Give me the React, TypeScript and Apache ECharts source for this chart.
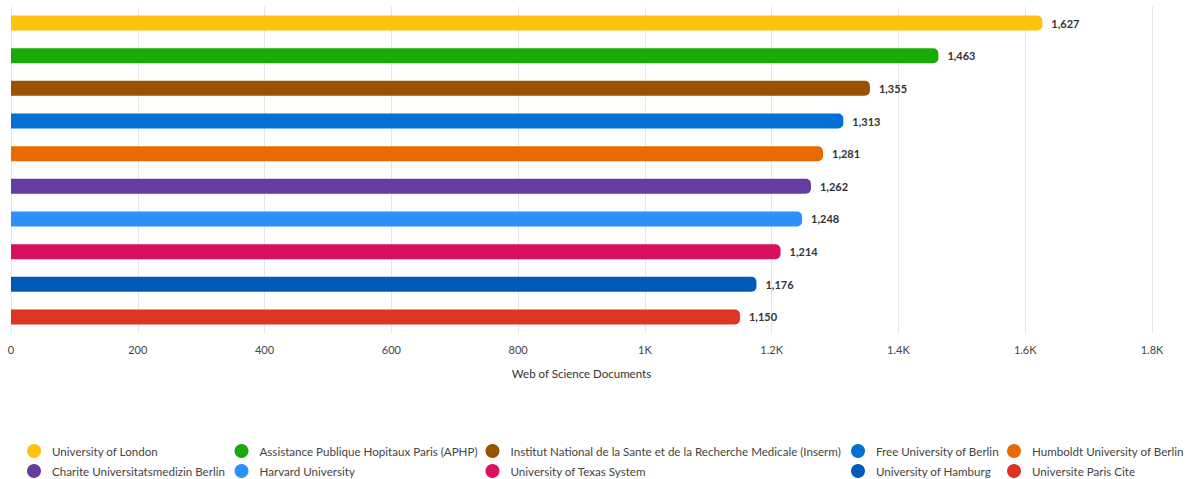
import React, { useEffect, useRef } from "react";
import * as echarts from "echarts";

const institutions = [
  "University of London",
  "Assistance Publique Hopitaux Paris (APHP)",
  "Institut National de la Sante et de la Recherche Medicale (Inserm)",
  "Free University of Berlin",
  "Humboldt University of Berlin",
  "Charite Universitatsmedizin Berlin",
  "Harvard University",
  "University of Texas System",
  "University of Hamburg",
  "Universite Paris Cite",
];
const documents = [1627, 1463, 1355, 1313, 1281, 1262, 1248, 1214, 1176, 1150];
const colors = [
  "#FFC20E",
  "#1AAA08",
  "#995200",
  "#0070D4",
  "#E96B00",
  "#653C9F",
  "#2E8FFF",
  "#D9105E",
  "#005BB8",
  "#DD3523",
];
const xTicks = [0, 200, 400, 600, 800, 1000, 1200, 1400, 1600, 1800];
const axisName = "Web of Science Documents";

const legendCols = [27, 234.5, 485.5, 851, 1007];
const legendRows = [444, 464];

const FONT = "Lato, 'Open Sans', sans-serif";

export default function App() {
  const ref = useRef<HTMLDivElement>(null);
  useEffect(() => {
    if (!ref.current) return;
    const chart = echarts.init(ref.current, undefined, { renderer: "svg" });
    const series = institutions.map((name, i) => ({
      name,
      type: "bar" as const,
      barWidth: 15,
      barGap: "-100%",
      itemStyle: { color: colors[i], borderRadius: [0, 5, 5, 0] },
      label: {
        show: true,
        position: "right" as const,
        distance: 9,
        fontFamily: FONT,
        fontWeight: "bold" as const,
        fontSize: 11,
        color: "#333",
        formatter: (p: any) => Number(p.value).toLocaleString("en-US"),
      },
      data: institutions.map((_, j) => (j === i ? documents[i] : null)),
    }));
    const legends = institutions.map((name, i) => ({
      data: [name],
      left: legendCols[i % 5],
      top: legendRows[Math.floor(i / 5)],
      orient: "horizontal" as const,
      padding: 0,
      icon: "circle",
      itemWidth: 14,
      itemHeight: 14,
      selectedMode: false,
      textStyle: {
        fontFamily: FONT,
        fontSize: 11.6,
        color: "#444",
        padding: [0, 0, 0, 6],
      },
    }));
    chart.setOption({
      animation: false,
      textStyle: { fontFamily: FONT },
      grid: { left: 11, right: 39, top: 6.67, bottom: 479 - 333.33, containLabel: false },
      xAxis: {
        type: "value",
        min: xTicks[0],
        max: xTicks[xTicks.length - 1],
        interval: 200,
        name: axisName,
        nameLocation: "middle",
        nameGap: 34,
        nameTextStyle: { fontFamily: FONT, fontSize: 11.5, color: "#333" },
        axisLine: { show: false },
        axisTick: { show: false },
        axisLabel: {
          margin: 11,
          fontFamily: FONT,
          fontSize: 11,
          color: "#444",
          formatter: (v: number) => (v >= 1000 ? v / 1000 + "K" : String(v)),
        },
        splitLine: { show: true, lineStyle: { color: "#e6e6e6", width: 1 } },
      },
      yAxis: {
        type: "category",
        inverse: true,
        data: institutions,
        axisLine: { show: false },
        axisTick: { show: false },
        axisLabel: { show: false },
      },
      legend: legends,
      series,
    });
    return () => chart.dispose();
  }, []);
  return (
    <div
      ref={ref}
      style={{ position: "fixed", left: 0, top: 0, width: 1191, height: 479, background: "#fff" }}
    />
  );
}
